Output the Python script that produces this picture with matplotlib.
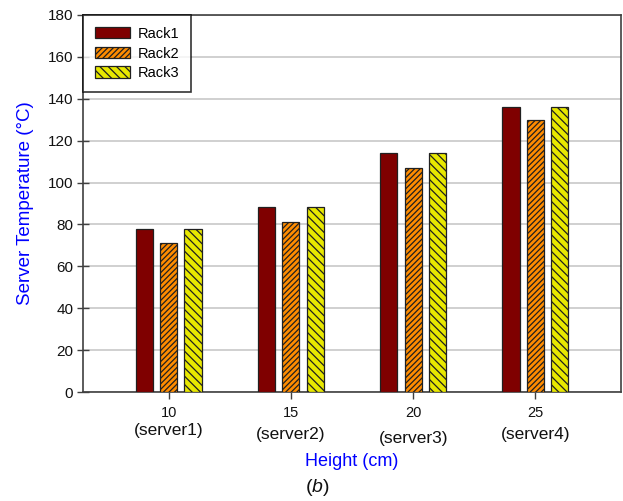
import matplotlib
matplotlib.use("Agg")
import matplotlib.pyplot as plt
import numpy as np

heights = [10, 15, 20, 25]
servers = ["(server1)", "(server2)", "(server3)", "(server4)"]
rack1 = [77.6, 88.3, 114.0, 136.2]
rack2 = [71.0, 81.2, 107.0, 129.8]
rack3 = [77.6, 88.3, 114.0, 136.2]
series_names = ["Rack1", "Rack2", "Rack3"]
yticks = [0, 20, 40, 60, 80, 100, 120, 140, 160, 180]

plt.rcParams['font.family'] = ['Liberation Sans', 'DejaVu Sans']
plt.rcParams['hatch.linewidth'] = 0.9
plt.rcParams['mathtext.fontset'] = 'custom'
plt.rcParams['mathtext.it'] = 'Liberation Sans:italic'
plt.rcParams['mathtext.rm'] = 'Liberation Sans'

fig = plt.figure(figsize=(6.23, 5.01), dpi=100)
ax = fig.add_axes([83/623, 1-392/501, (621-83)/623, (392-15)/501])

x = np.array(heights, dtype=float)
w = 0.7
styles = [
    dict(color="#7f0000", hatch=None),
    dict(color="#ff8c00", hatch="//////"),
    dict(color="#e8e800", hatch="\\\\\\\\"),
]
for off, vals, name, st in zip([-1, 0, 1], [rack1, rack2, rack3], series_names, styles):
    ax.bar(x + off, vals, width=w, facecolor=st["color"], edgecolor="#202020",
           linewidth=0.9, hatch=st["hatch"], label=name, zorder=3)

ax.set_xlim(6.5, 28.5)
ax.set_ylim(0, 180)
ax.set_yticks(yticks)
ax.set_xticks(heights)
ax.set_xticklabels([str(h) for h in heights])
ax.tick_params(axis='y', direction='inout', length=8, width=1, colors="#404040",
               labelsize=11, labelcolor="#111111", pad=3)
ax.tick_params(axis='x', direction='out', length=5, width=1, colors="#404040",
               labelsize=10.5, labelcolor="#111111", pad=5)
ax.grid(axis='y', color="#c8c8c8", linewidth=1.2, zorder=0)
ax.set_axisbelow(True)
for s in ax.spines.values():
    s.set_color("#404040")
    s.set_linewidth(1.2)

# server names under the height labels
srv_offsets = [-38, -42, -46, -42]
for h, s, dy in zip(heights, servers, srv_offsets):
    ax.annotate(s, xy=(h, 0), xycoords='data', xytext=(0, dy), textcoords='offset pixels',
                ha='center', va='center', fontsize=12.5, color="#111111")

ax.set_ylabel("Server Temperature (°C)", color="blue", fontsize=13.5, labelpad=10)
fig.text(352/623, 1-462/501, "Height (cm)", color="blue", fontsize=13, ha='center', va='center')
fig.text(317/623, 1-488/501, r"($\it{b}$)", fontsize=14, ha='center', va='center', color="#111111")

leg = ax.legend(loc='upper left', bbox_to_anchor=(0, 1), fontsize=10.5, frameon=True,
                fancybox=False, edgecolor="black", borderpad=0.8, labelspacing=0.4,
                handlelength=2.4, handleheight=0.85, handletextpad=0.55, borderaxespad=0)
leg.get_frame().set_linewidth(1.2)
leg.set_zorder(5)

fig.savefig("out.png", dpi=100)
